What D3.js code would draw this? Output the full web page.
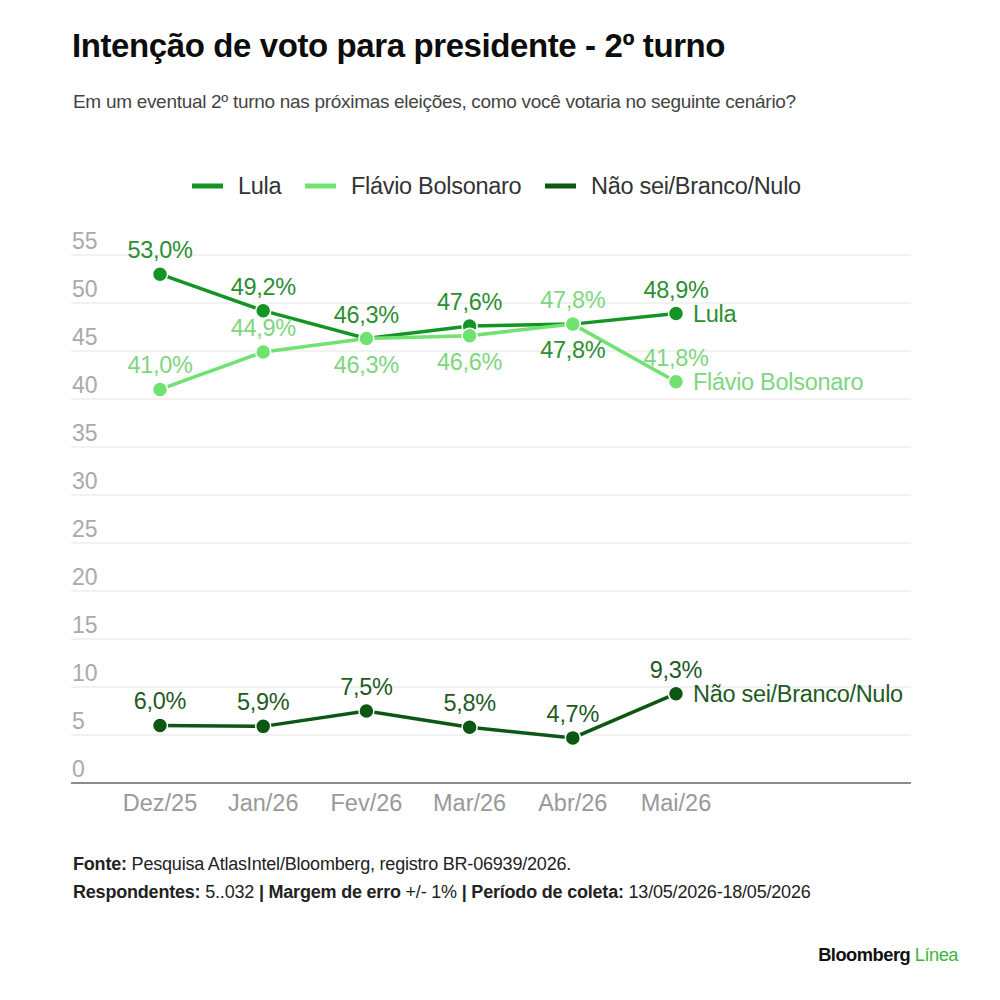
<!DOCTYPE html>
<meta charset="utf-8">
<style>
    body { margin: 0; background: #fff; }
    svg text { font-family: "Liberation Sans", Arial, sans-serif; }
</style>
<svg width="1000" height="1000"></svg>
<script src="https://cdn.jsdelivr.net/npm/d3@7"></script>
<script>

    // dados
    var months = ["Dez/25", "Jan/26", "Fev/26", "Mar/26", "Abr/26", "Mai/26"];
    var lula = [53.0, 49.2, 46.3, 47.6, 47.8, 48.9];
    var flavio = [41.0, 44.9, 46.3, 46.6, 47.8, 41.8];
    var naoSei = [6.0, 5.9, 7.5, 5.8, 4.7, 9.3];
    var yTicks = [0, 5, 10, 15, 20, 25, 30, 35, 40, 45, 50, 55];

    // label position per point: above (-1) or below (1)
    var lulaPos = [-1, -1, -1, -1, 1, -1];
    var flavioPos = [-1, -1, 1, 1, -1, -1];
    var naoPos = [-1, -1, -1, -1, -1, -1];

    var series = [
        { name: "Lula", values: lula, pos: lulaPos, color: "#149424", label: "#2a8f30" },
        { name: "Flávio Bolsonaro", values: flavio, pos: flavioPos, color: "#6fe26f", label: "#7ed67e" },
        { name: "Não sei/Branco/Nulo", values: naoSei, pos: naoPos, color: "#0b5713", label: "#1f5a24" }
    ];

    var svg = d3.select("svg");

    var x = d3.scalePoint().domain(months).range([160, 676]);
    var y = d3.scaleLinear().domain([0, 55]).range([783, 255]);

    // titulo
    svg.append("text")
        .attr("x", 72).attr("y", 57)
        .attr("font-size", 33).attr("font-weight", 700)
        .attr("letter-spacing", -0.4)
        .attr("fill", "#0d0d0d")
        .text("Intenção de voto para presidente - 2º turno");

    svg.append("text")
        .attr("x", 73).attr("y", 108)
        .attr("font-size", 19)
        .attr("letter-spacing", -0.3)
        .attr("fill", "#444")
        .text("Em um eventual 2º turno nas próximas eleições, como você votaria no seguinte cenário?");

    // legenda
    var legendX = [192, 305, 545];
    var legend = svg.append("g").selectAll("g")
        .data(series).enter().append("g")
        .attr("transform", function (d, i) { return "translate(" + legendX[i] + ",186)"; });
    legend.append("line")
        .attr("x1", 0).attr("x2", 31)
        .attr("stroke", function (d) { return d.color; })
        .attr("stroke-width", 5);
    legend.append("text")
        .attr("x", 46).attr("dy", "0.35em")
        .attr("font-size", 23.5)
        .attr("letter-spacing", -0.3)
        .attr("fill", "#333")
        .text(function (d) { return d.name; });

    // grade
    var grid = svg.append("g");
    grid.selectAll("line")
        .data(yTicks).enter().append("line")
        .attr("x1", 71).attr("x2", 911)
        .attr("y1", function (d) { return y(d); })
        .attr("y2", function (d) { return y(d); })
        .attr("stroke", function (d) { return d === 0 ? "#666" : "#e4e4e4"; })
        .attr("stroke-width", function (d) { return d === 0 ? 1.5 : 1; });
    grid.selectAll("text")
        .data(yTicks).enter().append("text")
        .attr("x", 72)
        .attr("y", function (d) { return y(d) - 6; })
        .attr("font-size", 23)
        .attr("fill", "#aaa")
        .text(function (d) { return d; });

    // eixo x
    svg.append("g").selectAll("text")
        .data(months).enter().append("text")
        .attr("x", function (d) { return x(d); })
        .attr("y", 811)
        .attr("text-anchor", "middle")
        .attr("font-size", 23.5)
        .attr("fill", "#999")
        .text(function (d) { return d; });

    var line = d3.line()
        .x(function (d, i) { return x(months[i]); })
        .y(function (d) { return y(d); });

    var fmt = function (v) { return v.toFixed(1).replace(".", ",") + "%"; };

    // Lula primeiro, Flávio por cima dele (como no original)
    var order = [0, 1, 2];
    order.forEach(function (k) {
        var s = series[k];
        var g = svg.append("g");
        g.append("path")
            .datum(s.values)
            .attr("d", line)
            .attr("fill", "none")
            .attr("stroke", s.color)
            .attr("stroke-width", 3.5);
        g.selectAll("circle")
            .data(s.values).enter().append("circle")
            .attr("cx", function (d, i) { return x(months[i]); })
            .attr("cy", function (d) { return y(d); })
            .attr("r", 7.5)
            .attr("fill", s.color)
            .attr("stroke", "#fff")
            .attr("stroke-width", 1.5);
    });

    order.forEach(function (k) {
        var s = series[k];
        var g = svg.append("g");
        g.selectAll("text.v")
            .data(s.values).enter().append("text")
            .attr("class", "v")
            .attr("x", function (d, i) { return x(months[i]); })
            .attr("y", function (d, i) { return y(d) + (s.pos[i] < 0 ? -16 : 34); })
            .attr("text-anchor", "middle")
            .attr("font-size", 23.5)
            .attr("letter-spacing", -0.3)
            .attr("fill", s.label)
            .text(fmt);
        var last = s.values.length - 1;
        g.append("text")
            .attr("x", x(months[last]) + 17)
            .attr("y", y(s.values[last]))
            .attr("dy", "0.35em")
            .attr("font-size", 23.5)
            .attr("letter-spacing", -0.3)
            .attr("fill", s.label)
            .text(s.name);
    });

    // rodape
    var foot1 = svg.append("text").attr("x", 73).attr("y", 870)
        .attr("font-size", 18).attr("letter-spacing", -0.2).attr("fill", "#222");
    foot1.append("tspan").attr("font-weight", 700).text("Fonte: ");
    foot1.append("tspan").text("Pesquisa AtlasIntel/Bloomberg, registro BR-06939/2026.");

    var foot2 = svg.append("text").attr("x", 73).attr("y", 898)
        .attr("font-size", 18).attr("letter-spacing", -0.2).attr("fill", "#222");
    foot2.append("tspan").attr("font-weight", 700).text("Respondentes: ");
    foot2.append("tspan").text("5..032 ");
    foot2.append("tspan").attr("font-weight", 700).text("| Margem de erro ");
    foot2.append("tspan").text("+/- 1% ");
    foot2.append("tspan").attr("font-weight", 700).text("| Período de coleta: ");
    foot2.append("tspan").text("13/05/2026-18/05/2026");

    var logo = svg.append("text").attr("x", 958).attr("y", 961)
        .attr("text-anchor", "end")
        .attr("font-size", 18.3).attr("font-weight", 700).attr("letter-spacing", -0.5);
    logo.append("tspan").attr("fill", "#111").text("Bloomberg ");
    logo.append("tspan").attr("fill", "#3cb43c").attr("font-weight", 400).text("Línea");

</script>
